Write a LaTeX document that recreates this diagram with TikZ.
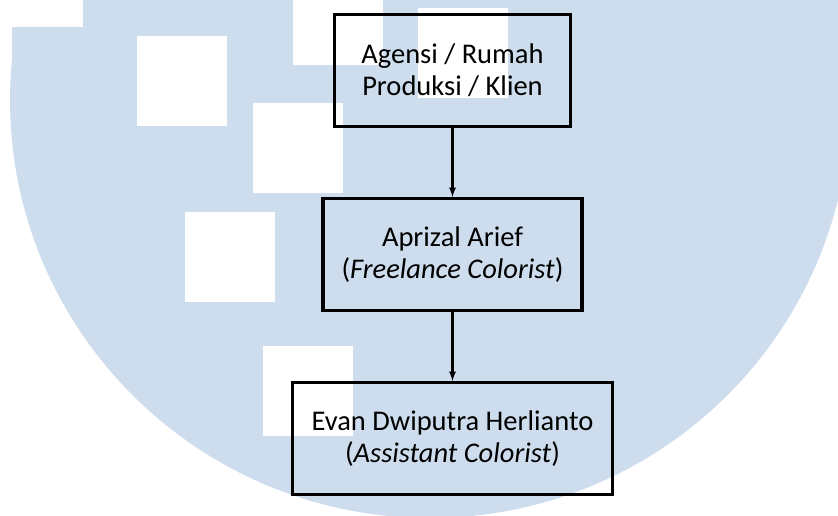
\documentclass[tikz,border=0pt]{standalone}
\usepackage{fontspec}
\setmainfont{Carlito}
\usetikzlibrary{positioning, arrows}
\definecolor{wmblue}{RGB}{205,221,237}

\tikzset{
  role/.style={draw, line width=3.2pt, minimum height=112pt, align=center,
    font=\fontsize{28.5}{32}\selectfont},
  wmsquare/.style={fill=white}
}

\begin{document}
\begin{tikzpicture}[x=1pt,y=1pt,node distance=184pt,on grid,>=latex]
  \useasboundingbox (0,0) rectangle (838,-516);
  \clip (0,0) rectangle (838,-516);

  \fill[wmblue] (430,-100) ellipse [x radius=420pt, y radius=418pt];
  \fill[wmblue] (12,0) rectangle (838,-100);
  \fill[white] (-1,1) rectangle (83,-27);
  \foreach \sx/\sy in {137/36, 293/-25, 253/103, 185/212, 263/346, 418/8}
    \fill[wmsquare] (\sx,-\sy) rectangle ++(90,-90);

  \node[role, minimum width=236pt] (client) at (452.5,-70.5) {Agensi / Rumah\\Produksi / Klien};
  \node[role, minimum width=259pt] (aprizal) [below=of client] {Aprizal Arief\\(\textit{Freelance Colorist})};
  \node[role, minimum width=320pt] (evan) [below=of aprizal] {Evan Dwiputra Herlianto\\(\textit{Assistant Colorist})};

  \path[->, line width=2.2pt]
    (client) edge (aprizal)
    (aprizal) edge (evan);
\end{tikzpicture}
\end{document}
